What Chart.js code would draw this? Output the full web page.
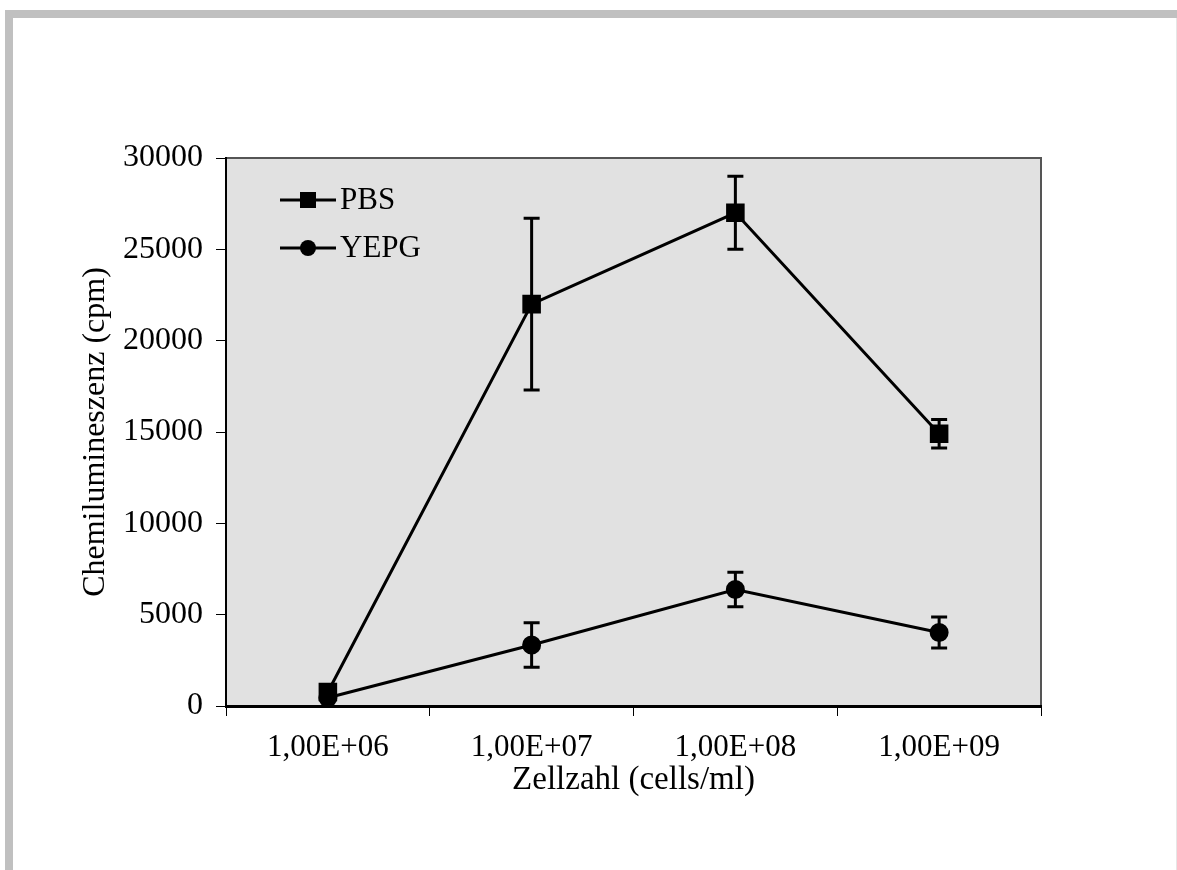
<!DOCTYPE html>
<html lang="de">
<head>
    <meta charset="UTF-8">
    <title>Chemilumineszenz</title>
    <style>
        body { margin: 0; background: #fff; }
    </style>
</head>
<body>
    <canvas id="myChart" width="1177" height="870"></canvas>

    <script src="https://cdn.jsdelivr.net/npm/chart.js"></script>

    <script>
    // Data
    const cellCounts = ["1,00E+06", "1,00E+07", "1,00E+08", "1,00E+09"];
    const pbsValues = [770, 22000, 27000, 14900];
    const pbsErrors = [100, 4700, 2000, 780];
    const yepgValues = [450, 3340, 6380, 4020];
    const yepgErrors = [0, 1220, 940, 850];
    const yTicks = [0, 5000, 10000, 15000, 20000, 25000, 30000];

    const serif = "'Liberation Serif', 'Times New Roman', serif";
    const ctx = document.getElementById('myChart');

    // frame, plot background, border of plot area
    const backdrop = {
        id: 'backdrop',
        beforeDraw(chart) {
            const c = chart.ctx;
            const a = chart.chartArea;
            c.save();
            c.fillStyle = '#ffffff';
            c.fillRect(0, 0, chart.width, chart.height);
            c.fillStyle = '#c0c0c0';
            c.fillRect(5, 10, chart.width - 5, 8);
            c.fillRect(5, 10, 8, chart.height - 10);
            c.fillStyle = '#e6e6e6';
            c.fillRect(chart.width - 1, 18, 1, chart.height - 18);
            c.fillStyle = '#e1e1e1';
            c.fillRect(a.left, a.top, a.right - a.left, a.bottom - a.top);
            c.strokeStyle = '#555555';
            c.lineWidth = 2;
            c.beginPath();
            c.moveTo(a.left, a.top);
            c.lineTo(a.right, a.top);
            c.lineTo(a.right, a.bottom);
            c.stroke();
            c.restore();
        }
    };

    // error bars, drawn under the markers
    const errorBars = {
        id: 'errorBars',
        beforeDatasetsDraw(chart) {
            const c = chart.ctx;
            const xs = chart.scales.x;
            const ys = chart.scales.y;
            c.save();
            c.strokeStyle = '#000';
            c.lineWidth = 3;
            chart.data.datasets.forEach(ds => {
                ds.data.forEach((v, i) => {
                    const e = ds.errors[i];
                    if (!e) return;
                    const x = xs.getPixelForValue(i);
                    const y1 = ys.getPixelForValue(v + e);
                    const y2 = ys.getPixelForValue(v - e);
                    c.beginPath();
                    c.moveTo(x, y1); c.lineTo(x, y2);
                    c.moveTo(x - 8, y1); c.lineTo(x + 8, y1);
                    c.moveTo(x - 8, y2); c.lineTo(x + 8, y2);
                    c.stroke();
                });
            });
            c.restore();
        }
    };

    // legend inside the plot, top left
    const innerLegend = {
        id: 'innerLegend',
        afterDraw(chart) {
            const c = chart.ctx;
            const a = chart.chartArea;
            c.save();
            chart.data.datasets.forEach((ds, i) => {
                const y = a.top + 42 + i * 48;
                const x0 = a.left + 54;
                c.strokeStyle = '#000';
                c.lineWidth = 3;
                c.beginPath();
                c.moveTo(x0, y); c.lineTo(x0 + 56, y);
                c.stroke();
                c.fillStyle = '#000';
                if (ds.pointStyle === 'rect') {
                    c.fillRect(x0 + 20, y - 8, 16, 16);
                } else {
                    c.beginPath();
                    c.arc(x0 + 28, y, 8, 0, Math.PI * 2);
                    c.fill();
                }
                c.font = '31px ' + serif;
                c.textBaseline = 'middle';
                c.fillText(ds.label, x0 + 60, y + 1);
            });
            c.restore();
        }
    };

    new Chart(ctx, {
        type: 'line',
        data: {
            labels: cellCounts,
            datasets: [{
                label: 'PBS',
                data: pbsValues,
                errors: pbsErrors,
                borderColor: '#000',
                backgroundColor: '#000',
                borderWidth: 3,
                pointStyle: 'rect',
                pointRadius: 11,
                tension: 0
            }, {
                label: 'YEPG',
                data: yepgValues,
                errors: yepgErrors,
                borderColor: '#000',
                backgroundColor: '#000',
                borderWidth: 3,
                pointStyle: 'circle',
                pointRadius: 8,
                tension: 0
            }]
        },
        options: {
            responsive: false,
            animation: false,
            layout: { padding: { top: 158, right: 136, left: 0, bottom: 0 } },
            plugins: {
                legend: { display: false },
                tooltip: { enabled: false }
            },
            scales: {
                x: {
                    offset: true,
                    afterFit(s) { s.height = 164; },
                    grid: {
                        offset: true,
                        drawOnChartArea: false,
                        color: '#000',
                        lineWidth: 1,
                        tickLength: 10
                    },
                    border: { color: '#000', width: 3 },
                    ticks: {
                        color: '#000',
                        padding: 13,
                        font: { family: serif, size: 31 }
                    },
                    title: {
                        display: true,
                        text: 'Zellzahl (cells/ml)',
                        color: '#000',
                        font: { family: serif, size: 33 },
                        padding: { top: 0, bottom: 70 }
                    }
                },
                y: {
                    min: 0,
                    max: 30000,
                    afterFit(s) { s.width = 226; },
                    afterBuildTicks(s) { s.ticks = yTicks.map(v => ({ value: v })); },
                    grid: {
                        drawOnChartArea: false,
                        color: '#000',
                        lineWidth: 1,
                        tickLength: 10
                    },
                    border: { color: '#000', width: 2 },
                    ticks: {
                        color: '#000',
                        padding: 13,
                        font: { family: serif, size: 32 },
                        callback: v => String(v)
                    },
                    title: {
                        display: true,
                        text: 'Chemilumineszenz (cpm)',
                        color: '#000',
                        font: { family: serif, size: 32 },
                        padding: { top: 76, bottom: 0 }
                    }
                }
            }
        },
        plugins: [backdrop, errorBars, innerLegend]
    });
    </script>
</body>
</html>
